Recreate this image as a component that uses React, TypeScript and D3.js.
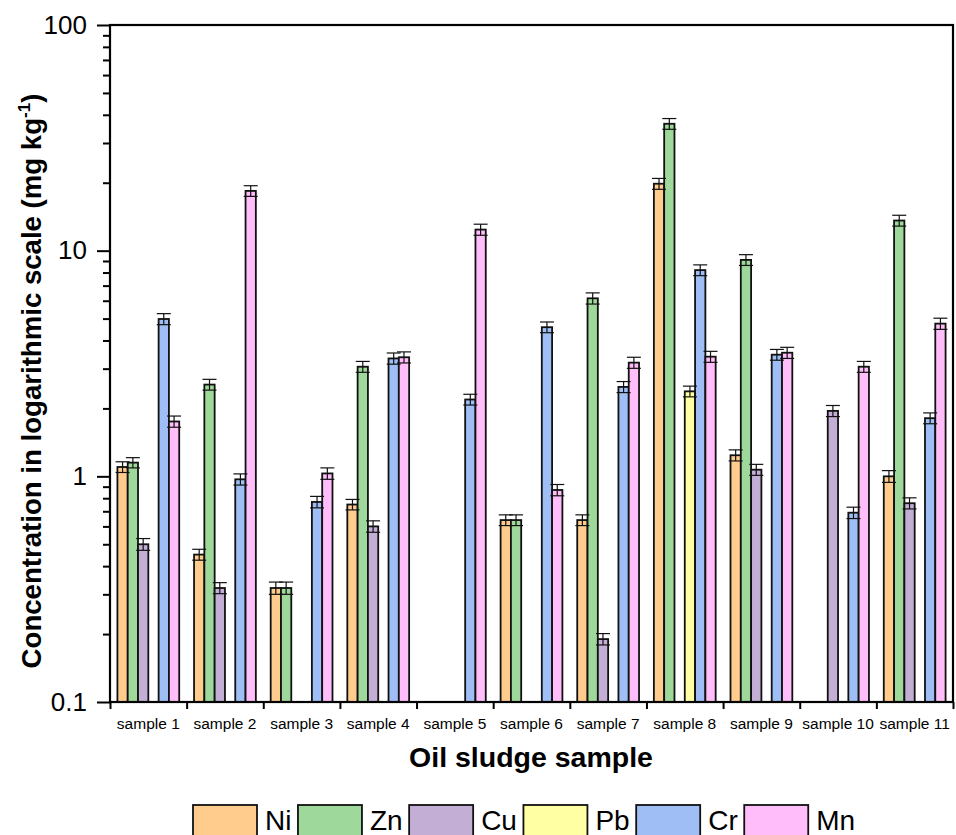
import React, { useRef, useEffect } from "react";
import * as d3 from "d3";

// concentrations (mg/kg), null = not detected
const samples = [
  "sample 1", "sample 2", "sample 3", "sample 4", "sample 5", "sample 6",
  "sample 7", "sample 8", "sample 9", "sample 10", "sample 11",
];
const metals = ["Ni", "Zn", "Cu", "Pb", "Cr", "Mn"];

const ni = [1.1, 0.45, 0.32, 0.75, null, 0.64, 0.64, 19.8, 1.24, null, 1.0];
const zn = [1.15, 2.55, 0.32, 3.06, null, 0.64, 6.15, 36.5, 9.1, null, 13.6];
const cu = [0.5, 0.32, null, 0.6, null, null, 0.19, null, 1.07, 1.95, 0.76];
const pb = [null, null, null, null, null, null, null, 2.38, null, null, null];
const cr = [4.98, 0.97, 0.77, 3.33, 2.19, 4.58, 2.49, 8.2, 3.46, 0.69, 1.81];
const mn = [1.75, 18.4, 1.03, 3.37, 12.4, 0.87, 3.19, 3.39, 3.53, 3.06, 4.75];

const niErr = [0.06, 0.025, 0.02, 0.04, null, 0.035, 0.035, 1.1, 0.07, null, 0.06];
const znErr = [0.06, 0.14, 0.02, 0.17, null, 0.035, 0.35, 2.0, 0.5, null, 0.75];
const cuErr = [0.03, 0.018, null, 0.035, null, null, 0.011, null, 0.06, 0.11, 0.043];
const pbErr = [null, null, null, null, null, null, null, 0.13, null, null, null];
const crErr = [0.28, 0.055, 0.045, 0.19, 0.12, 0.25, 0.14, 0.45, 0.19, 0.04, 0.1];
const mnErr = [0.1, 1.0, 0.06, 0.19, 0.7, 0.05, 0.18, 0.19, 0.2, 0.17, 0.27];

const majorTicks = [0.1, 1, 10, 100];

const colors = ["#FFCC8E", "#9ED89B", "#C3AFD6", "#FFFFA3", "#9EBEF5", "#FFBDF9"];

const App = () => {
  const svgRef = useRef(null);
  const width = 956;
  const height = 835;
  const margin = { top: 25, right: 3, bottom: 133, left: 110 };

  useEffect(() => {
    const svg = d3.select(svgRef.current);
    svg.selectAll("*").remove();
    const font = "'Liberation Sans', Arial, sans-serif";

    const values = [ni, zn, cu, pb, cr, mn];
    const errors = [niErr, znErr, cuErr, pbErr, crErr, mnErr];

    const x0 = margin.left;
    const x1 = width - margin.right;
    const y0 = height - margin.bottom;
    const y1 = margin.top;

    const xScale = d3.scaleBand().domain(samples).range([x0, x1]);
    const xInner = d3
      .scaleBand()
      .domain(metals)
      .range([0, xScale.bandwidth()])
      .paddingOuter(0.72);
    const yScale = d3.scaleLog().domain([0.1, 100]).range([y0, y1]);

    // bars
    const bars = [];
    samples.forEach((s, i) => {
      metals.forEach((m, j) => {
        const v = values[j][i];
        if (v == null) return;
        bars.push({ s, m, v, e: errors[j][i], c: colors[j] });
      });
    });

    const g = svg.append("g");
    g.selectAll("rect.bar")
      .data(bars)
      .join("rect")
      .attr("class", "bar")
      .attr("x", (d) => xScale(d.s) + xInner(d.m))
      .attr("width", xInner.bandwidth())
      .attr("y", (d) => yScale(d.v))
      .attr("height", (d) => y0 - yScale(d.v))
      .attr("fill", (d) => d.c)
      .attr("stroke", "#111")
      .attr("stroke-width", 1.8);

    // error bars
    const cap = 7;
    const eb = g
      .selectAll("g.err")
      .data(bars)
      .join("g")
      .attr("class", "err")
      .attr("stroke", "#111")
      .attr("stroke-width", 1.2);
    const cx = (d) => xScale(d.s) + xInner(d.m) + xInner.bandwidth() / 2;
    eb.append("line")
      .attr("x1", cx)
      .attr("x2", cx)
      .attr("y1", (d) => yScale(d.v - d.e))
      .attr("y2", (d) => yScale(d.v + d.e));
    eb.append("line")
      .attr("x1", (d) => cx(d) - cap)
      .attr("x2", (d) => cx(d) + cap)
      .attr("y1", (d) => yScale(d.v + d.e))
      .attr("y2", (d) => yScale(d.v + d.e));
    eb.append("line")
      .attr("x1", (d) => cx(d) - cap)
      .attr("x2", (d) => cx(d) + cap)
      .attr("y1", (d) => yScale(d.v - d.e))
      .attr("y2", (d) => yScale(d.v - d.e));

    // frame
    svg
      .append("rect")
      .attr("x", x0)
      .attr("y", y1)
      .attr("width", x1 - x0)
      .attr("height", y0 - y1)
      .attr("fill", "none")
      .attr("stroke", "#000")
      .attr("stroke-width", 2.2);

    // y axis: minor + major ticks
    const minor = [];
    for (let dec = 0.1; dec < 100; dec *= 10) {
      for (let k = 2; k <= 9; k++) minor.push(+(dec * k).toPrecision(3));
    }
    const yMinor = svg
      .append("g")
      .attr("transform", `translate(${x0},0)`)
      .call(d3.axisLeft(yScale).tickValues(minor).tickSize(7).tickFormat(() => ""));
    const yMajor = svg
      .append("g")
      .attr("transform", `translate(${x0},0)`)
      .call(
        d3.axisLeft(yScale)
          .tickValues(majorTicks)
          .tickSize(13)
          .tickPadding(10)
          .tickFormat((d) => String(d))
      );
    [yMinor, yMajor].forEach((a) => {
      a.select(".domain").remove();
      a.selectAll("line").attr("stroke", "#000").attr("stroke-width", 2);
    });
    yMajor
      .selectAll("text")
      .attr("font-family", font)
      .attr("font-size", 26)
      .attr("fill", "#000");

    // x axis: ticks at group boundaries
    const xEdge = d3.scaleLinear().domain([0, samples.length]).range([x0, x1]);
    const xAxis = svg
      .append("g")
      .attr("transform", `translate(0,${y0})`)
      .call(
        d3.axisBottom(xEdge)
          .tickValues(d3.range(0, samples.length + 1))
          .tickSize(7)
          .tickFormat(() => "")
      );
    xAxis.select(".domain").remove();
    xAxis.selectAll("line").attr("stroke", "#000").attr("stroke-width", 2);

    svg
      .append("g")
      .selectAll("text")
      .data(samples)
      .join("text")
      .attr("x", (d) => xScale(d) + xScale.bandwidth() / 2)
      .attr("y", y0 + 27)
      .attr("text-anchor", "middle")
      .attr("font-family", font)
      .attr("font-size", 15.5)
      .text((d) => d);

    // axis titles
    svg
      .append("text")
      .attr("x", 531)
      .attr("y", 767)
      .attr("text-anchor", "middle")
      .attr("font-family", font)
      .attr("font-weight", "bold")
      .attr("font-size", 28.5)
      .text("Oil sludge sample");

    const yt = svg
      .append("text")
      .attr("transform", "translate(41,381) rotate(-90)")
      .attr("text-anchor", "middle")
      .attr("font-family", font)
      .attr("font-weight", "bold")
      .attr("font-size", 27.6);
    yt.append("tspan").text("Concentration in logarithmic scale (mg kg");
    yt.append("tspan").attr("font-size", 17).attr("dy", -11).text("-1");
    yt.append("tspan").attr("dy", 11).text(")");

    // legend
    const lg = svg.append("g");
    let lx = 193;
    metals.forEach((m, j) => {
      lg.append("rect")
        .attr("x", lx)
        .attr("y", 805)
        .attr("width", 64)
        .attr("height", 34)
        .attr("fill", colors[j])
        .attr("stroke", "#111")
        .attr("stroke-width", 1.8);
      const t = lg
        .append("text")
        .attr("x", lx + 72)
        .attr("y", 830)
        .attr("font-family", font)
        .attr("font-size", 28)
        .text(m);
      lx += 72 + t.node().getComputedTextLength() + 6.5;
    });
  }, []);

  return (
    <div style={{ position: "absolute", left: 0, top: 0 }}>
      <svg ref={svgRef} width={width} height={height} style={{ display: "block", background: "#fff" }} />
    </div>
  );
};

export default App;
